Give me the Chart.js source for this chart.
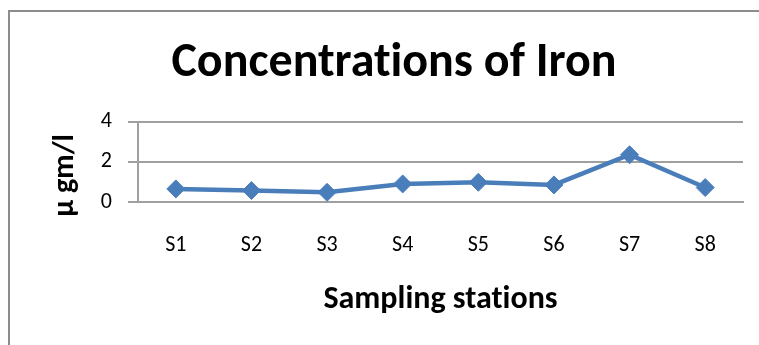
<!DOCTYPE html>
<html>
<head>
<meta charset="utf-8">
<script src="https://cdn.jsdelivr.net/npm/chart.js@4"></script>
<style>
  html, body { margin: 0; padding: 0; background: #fff; }
  #wrap { position: relative; width: 759px; height: 345px; overflow: hidden; }
  #frame { position: absolute; left: 8px; top: 10px; width: 800px; height: 400px; border: 2px solid #8c8c8c; }
  canvas { position: absolute; left: 0; top: 0; }
</style>
</head>
<body>
<div id="wrap">
  <div id="frame"></div>
  <canvas id="ironChart" width="759" height="345"></canvas>
</div>
<script>
// ====== Iron concentration chart ======
const stations = ['S1', 'S2', 'S3', 'S4', 'S5', 'S6', 'S7', 'S8'];
const ironValues = [0.65, 0.57, 0.48, 0.9, 0.98, 0.85, 2.35, 0.72];
const yTicks = [0, 2, 4];

const fontFamily = 'Carlito, Calibri, Lato, sans-serif';
const gridGray = '#a0a0a0';
const lineBlue = '#4a7ebb';

// Word-style text: no "ti" ligatures
const noLigatures = {
  id: 'noLigatures',
  beforeDraw: chart => { chart.ctx.textRendering = 'optimizeSpeed'; }
};

const ctx = document.getElementById('ironChart').getContext('2d');
new Chart(ctx, {
  type: 'line',
  data: {
    labels: stations,
    datasets: [{
      data: ironValues,
      borderColor: lineBlue,
      backgroundColor: lineBlue,
      borderWidth: 4.5,
      pointStyle: 'rectRot',
      pointRadius: 9,
      pointBorderWidth: 1,
      tension: 0
    }]
  },
  plugins: [noLigatures],
  options: {
    responsive: false,
    animation: false,
    // left padding pushes the title centre over the frame, not the canvas
    layout: { padding: { left: 45, right: 16, top: 0, bottom: 0 } },
    plugins: {
      legend: { display: false },
      tooltip: { enabled: false },
      title: {
        display: true,
        text: 'Concentrations of Iron',
        color: '#000',
        font: { family: fontFamily, size: 48, weight: 'bold', lineHeight: 1.2 },
        padding: { top: 35, bottom: 29 }
      }
    },
    scales: {
      x: {
        offset: true,
        grid: { display: false, drawTicks: false },
        border: { display: true, color: gridGray, width: 2 },
        ticks: { color: '#000', padding: 30, font: { family: fontFamily, size: 22 } },
        title: {
          display: true,
          text: 'Sampling stations',
          color: '#000',
          font: { family: fontFamily, size: 32, weight: 'bold', lineHeight: 1.2 },
          padding: { top: 0, bottom: 26 }
        },
        afterFit: scale => { scale.height = 143; }
      },
      y: {
        min: 0,
        max: 4,
        afterBuildTicks: scale => { scale.ticks = yTicks.map(v => ({ value: v })); },
        grid: { color: gridGray, lineWidth: 2, tickLength: 10 },
        border: { display: true, color: gridGray, width: 2 },
        ticks: { color: '#000', padding: 16, font: { family: fontFamily, size: 22 } },
        title: {
          display: true,
          // trailing spaces nudge the rotated label a little lower, as in the original
          text: 'µ gm/l\u00a0\u00a0\u00a0\u00a0',
          color: '#000',
          font: { family: fontFamily, size: 30, weight: 'bold', lineHeight: 1.2 },
          padding: { top: 2, bottom: 0 }
        },
        afterFit: scale => { scale.width = 93; }
      }
    }
  }
});
</script>
</body>
</html>
